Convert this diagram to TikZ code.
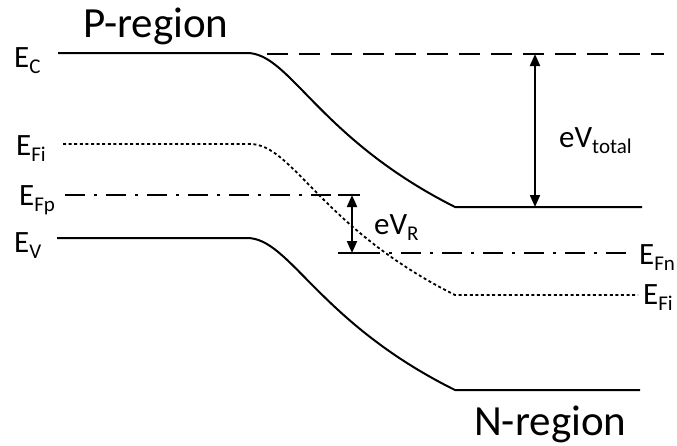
\documentclass[tikz,border=0pt]{standalone}
\usepackage{fontspec}
\setmainfont{Carlito}
\usetikzlibrary{arrows.meta}
% energy level symbol with a lowered subscript
\newcommand\lvl[2]{#1\raisebox{-0.2em}{\fontsize{21}{21}\selectfont #2}}
\begin{document}
\begin{tikzpicture}[x=1pt,y=-1pt,
  band/.style={line width=2pt},
  fermidash/.style={line width=2pt, dash pattern=on 20pt off 9pt on 3pt off 9pt},
  intrinsic/.style={line width=1.8pt, dash pattern=on 3pt off 2.6pt},
  reflevel/.style={line width=1.8pt, dash pattern=on 21pt off 11pt},
  gap/.style={line width=2pt, {Triangle[length=12pt,width=10pt]}-{Triangle[length=12pt,width=10pt]}},
  lbl/.style={anchor=base west, inner sep=0pt, font=\fontsize{31}{31}\selectfont},
  region/.style={anchor=base west, inner sep=0pt, font=\fontsize{43}{43}\selectfont}]
\useasboundingbox (0,0) rectangle (677,445);

% region titles
\node[region] (preg) at (83,37) {P-region};
\node[region] (nreg) at (474,435) {N-region};

% level labels
\node[lbl] (ec)  at (14,67)  {\lvl{E}{C}};
\node[lbl] (efi) at (16,155) {\lvl{E}{Fi}};
\node[lbl] (efp) at (19,205) {\lvl{E}{Fp}};
\node[lbl] (ev)  at (14,252) {\lvl{E}{V}};
\node[lbl] (efn) at (639,264) {\lvl{E}{Fn}};
\node[lbl] (efi2) at (643,304) {\lvl{E}{Fi}};

% conduction band, intrinsic level, valence band
\draw[band] (58,53) -- (247,53) .. controls (290,53) and (318,138) .. (455,207) -- (642,207);
\draw[intrinsic] (63,144) -- (250,144) .. controls (293,144) and (321,228) .. (455,295) -- (638,295);
\draw[band] (57,238) -- (247,238) .. controls (290,238) and (318,322) .. (455,390) -- (640,390);

% P-side conduction band reference
\draw[reflevel] (267,54) -- (664,54);

% quasi Fermi levels
\draw[fermidash] (65,195) -- (340,195);
\draw[fermidash] (360,253) -- (630,253);
\draw[band] (338,195) -- (360,195);
\draw[band] (338,253) -- (360,253);

% potential differences
\coordinate (vt1) at (535,54);
\coordinate (vt2) at (535,207);
\draw[gap] (vt1) -- (vt2);
\node[lbl] (evtot) at (559,147) {eV\raisebox{-0.2em}{\fontsize{21}{21}\selectfont total}};

\coordinate (vr1) at (352,195);
\coordinate (vr2) at (352,253);
\draw[gap] (vr1) -- (vr2);
\node[lbl] (evr) at (374,234) {eV\raisebox{-0.2em}{\fontsize{21}{21}\selectfont R}};
\end{tikzpicture}
\end{document}
